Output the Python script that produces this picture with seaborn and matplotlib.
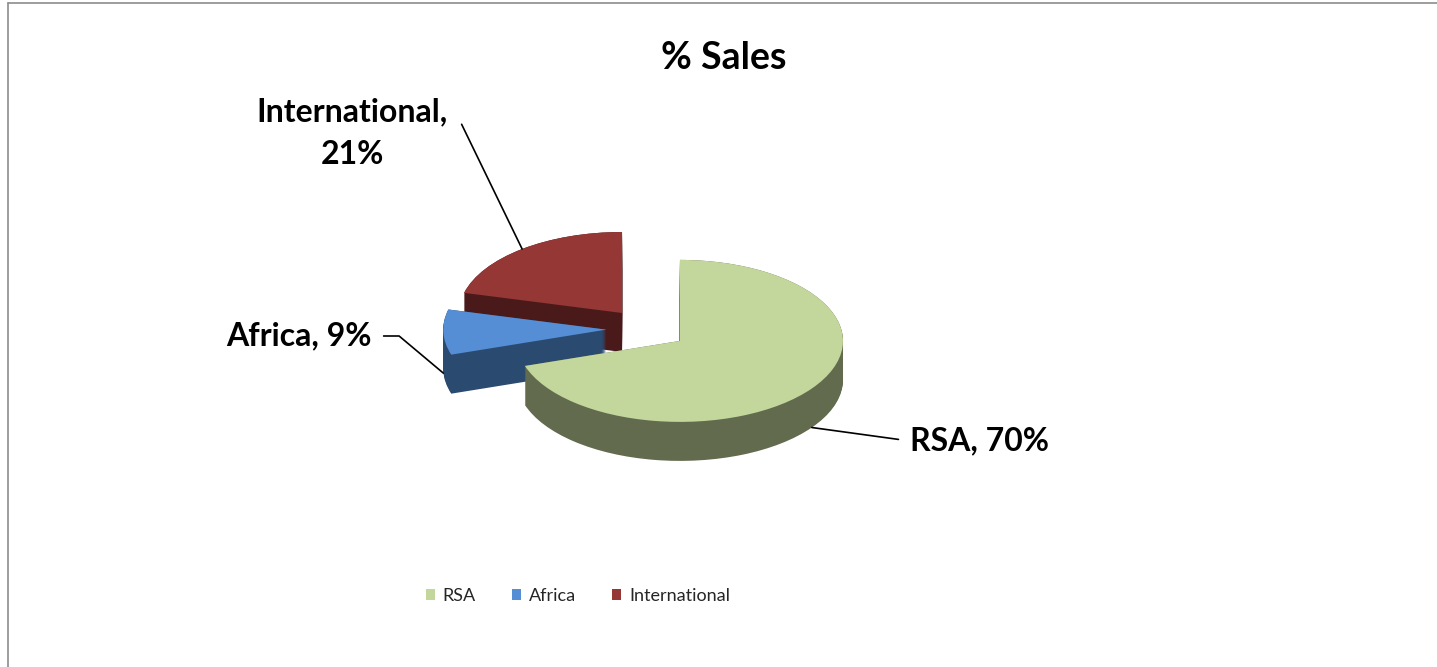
import numpy as np
import matplotlib
matplotlib.use("Agg")
import matplotlib.pyplot as plt
import seaborn as sns
from matplotlib.patches import Patch
from matplotlib.lines import Line2D

# data
categories = ['RSA', 'Africa', 'International']
shares = [70, 9, 21]
top_colors = ['#C3D69B', '#558ED5', '#953735']
side_colors = ['#626B4D', '#2B4A70', '#4A1A1A']

# layer order: back slice first
stack_order = [3, 2, 1]

sns.set_theme(style='white')
plt.rcParams['font.family'] = ['Lato', 'DejaVu Sans']

W, H = 1437, 667
fig = plt.figure(figsize=(W / 100, H / 100), dpi=100)
ax = fig.add_axes([0, 0, 1, 1])

# pixel geometry of the flattened pie
cx, cy = 647, 329
rx, ry = 163, 81
depth = 39 / ry
explode = [0.25] * len(shares)

pie_kw = dict(explode=explode, startangle=90, counterclock=False,
              wedgeprops=dict(linewidth=0))

# extruded side walls: stack of darker pies shifted down
for d in np.linspace(depth, 0, 40):
    wedges, _ = ax.pie(shares, colors=side_colors, center=(0, -d), **pie_kw)
    for w, z in zip(wedges, stack_order):
        w.set_zorder(z)

wedges, _ = ax.pie(shares, colors=top_colors, **pie_kw)
for w, z in zip(wedges, stack_order):
    w.set_zorder(z + 0.5)

ax.set_aspect('auto')
ax.set_xlim((0 - cx) / rx, (W - cx) / rx)
ax.set_ylim((cy - H) / ry, cy / ry)
ax.axis('off')

# anchor points on the rim at each slice's middle angle
fracs = np.array(shares) / sum(shares)
starts = np.concatenate([[0], np.cumsum(fracs)[:-1]])
mid = np.deg2rad(90 - 360 * (starts + fracs / 2))
anchor_drop = [1.0, 1.05, 0.0]

label_pos = [(910, 441), (372, 336), (352, 133)]
label_ha = ['left', 'right', 'center']
relpos = [(0, 0.5), (1, 0.5), (1.07, 0.64)]
shrink = [6, 6, 1]
conn = ['arc3', 'angle,angleA=0,angleB=140,rad=0', 'arc3']

for i, cat in enumerate(categories):
    ex, ey = explode[i] * np.cos(mid[i]), explode[i] * np.sin(mid[i])
    xa = ex + np.cos(mid[i])
    ya = ey + np.sin(mid[i]) - anchor_drop[i] * depth
    if cat == 'International':
        txt = f'{cat},\n{shares[i]}%'
    else:
        txt = f'{cat}, {shares[i]}%'
    ax.annotate(txt, xy=(xa, ya), xycoords='data',
                xytext=(label_pos[i][0], H - label_pos[i][1]),
                textcoords='figure pixels',
                ha=label_ha[i], va='center', fontsize=23, fontweight='bold',
                color='black', linespacing=1.55, zorder=10,
                arrowprops=dict(arrowstyle='-', color='black', lw=1.2,
                                connectionstyle=conn[i], relpos=relpos[i],
                                shrinkA=shrink[i], shrinkB=0))

fig.text(724 / W, 1 - 58 / H, '% Sales', ha='center', va='center',
         fontsize=27, fontweight='bold', color='black')

handles = [Patch(facecolor=c, edgecolor='none') for c in top_colors]
fig.legend(handles, categories, loc='center', bbox_to_anchor=(578 / W, 1 - 596 / H),
           ncol=3, frameon=False, fontsize=13, handlelength=0.5, handleheight=0.5,
           columnspacing=2.0, handletextpad=0.45)

# chart area border (left and top edges visible)
fig.add_artist(Line2D([8 / W, 8 / W], [0, 1 - 3 / H], color='#8c8c8c', lw=1.2))
fig.add_artist(Line2D([8 / W, 1], [1 - 3 / H, 1 - 3 / H], color='#8c8c8c', lw=1.2))

fig.savefig('out.png', dpi=100)
